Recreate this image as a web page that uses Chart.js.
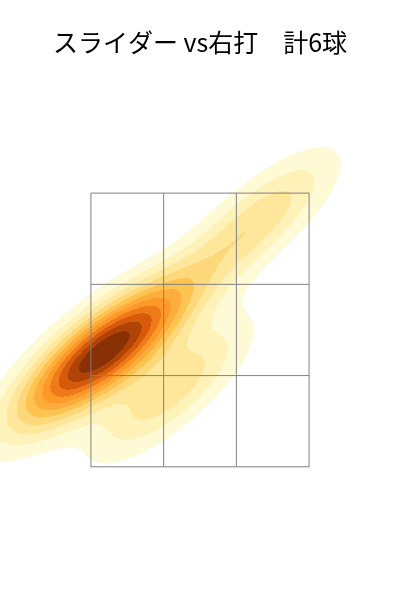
<!DOCTYPE html>
<html>
<head>
<meta charset="utf-8">
<script src="https://cdn.jsdelivr.net/npm/chart.js@4/dist/chart.umd.min.js"></script>
<style>
  body { margin: 0; background: #fff; }
  #wrap { width: 400px; height: 600px; }
</style>
</head>
<body>
<div id="wrap"><canvas id="chart"></canvas></div>
<script>
const titleText = "スライダー vs右打　計6球";
// pitch locations in zone units (zone spans 0..3 both ways)
const pitchX = [0.0, 0.3, 1.1, 2.3, -0.3, 0.75];
const pitchY = [1.3, 1.2, 0.85, 2.7, 1.0, 1.55];
const zoneLines = [0, 1, 2, 3];
const bandColors = ["#fffad6", "#fff2b8", "#fee79a", "#fed77a", "#fec44f", "#feac3c", "#fe9929", "#ee7a1a", "#d65a0a", "#b04406", "#8a3005"];

// gaussian kde with data covariance (Scott's factor)
const n = pitchX.length;
const mx = pitchX.reduce((a, b) => a + b) / n, my = pitchY.reduce((a, b) => a + b) / n;
let sxx = 0, syy = 0, sxy = 0;
for (let i = 0; i < n; i++) {
  sxx += (pitchX[i] - mx) ** 2; syy += (pitchY[i] - my) ** 2; sxy += (pitchX[i] - mx) * (pitchY[i] - my);
}
const f2 = Math.pow(n, -1 / 3);
const cxx = sxx / (n - 1) * f2, cyy = syy / (n - 1) * f2, cxy = sxy / (n - 1) * f2;
const det = cxx * cyy - cxy * cxy;
const ixx = cyy / det, iyy = cxx / det, ixy = -cxy / det;

function density(x, y) {
  let s = 0;
  for (let i = 0; i < n; i++) {
    const dx = x - pitchX[i], dy = y - pitchY[i];
    s += Math.exp(-0.5 * (ixx * dx * dx + 2 * ixy * dx * dy + iyy * dy * dy));
  }
  return s;
}

const kdePlugin = {
  id: "kde",
  beforeDatasetsDraw(chart) {
    const { ctx, chartArea: a, scales } = chart;
    const step = 1;
    const cells = [];
    let max = 0;
    for (let py = a.top; py < a.bottom; py += step) {
      for (let px = a.left; px < a.right; px += step) {
        const d = density(scales.x.getValueForPixel(px + 0.5), scales.y.getValueForPixel(py + 0.5));
        if (d > max) max = d;
        cells.push([px, py, d]);
      }
    }
    const thresh = 0.08;
    const k0 = bandColors.length;
    ctx.save();
    for (const [px, py, d] of cells) {
      const r = d / max;
      if (r < thresh) continue;
      const k = Math.min(k0 - 1, Math.floor((r - thresh) / (1 - thresh) * k0));
      ctx.fillStyle = bandColors[k];
      ctx.fillRect(px, py, step, step);
    }
    ctx.restore();
  }
};

const lineSets = [];
zoneLines.forEach(v => {
  lineSets.push({ data: [{ x: v, y: 0 }, { x: v, y: 3 }] });
  lineSets.push({ data: [{ x: 0, y: v }, { x: 3, y: v }] });
});
lineSets.forEach(s => Object.assign(s, { type: "line", borderColor: "#808080", borderWidth: 1, pointRadius: 0 }));

new Chart(document.getElementById("chart"), {
  type: "scatter",
  data: { datasets: lineSets },
  options: {
    responsive: true,
    maintainAspectRatio: false,
    animation: false,
    layout: { padding: 0 },
    plugins: {
      legend: { display: false },
      tooltip: { enabled: false },
      title: {
        display: true,
        text: titleText,
        color: "#000",
        font: { size: 25, weight: "normal", family: "'Noto Sans CJK JP', sans-serif", lineHeight: 1.2 },
        padding: { top: 27, bottom: 23 }
      }
    },
    scales: {
      x: { display: false, min: -1.25, max: 4.25 },
      y: { display: false, min: -1.46, max: 4.24 }
    }
  },
  plugins: [kdePlugin]
});
</script>
</body>
</html>
